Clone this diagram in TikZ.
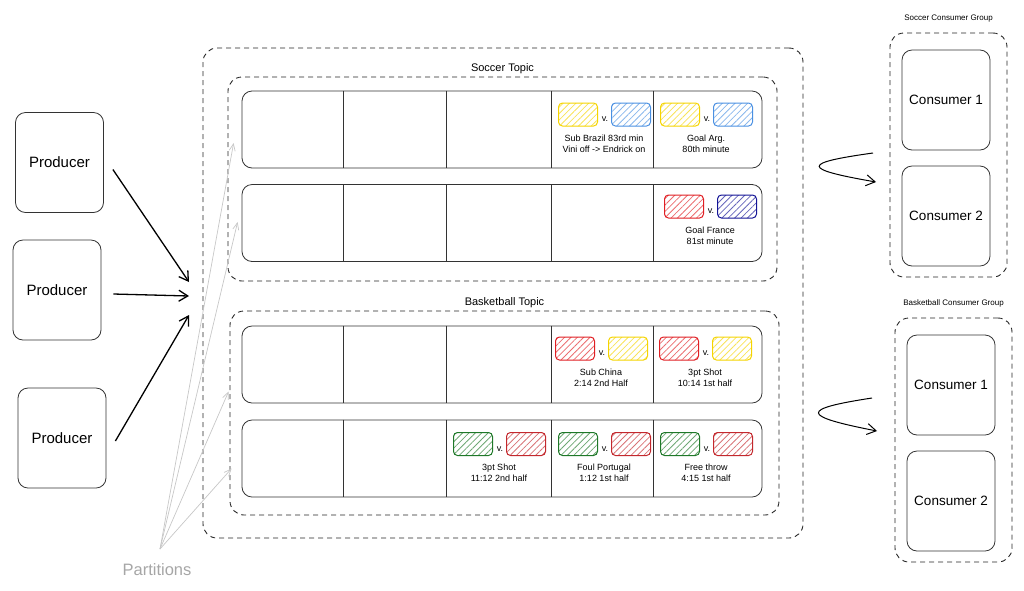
\documentclass[tikz,border=0pt]{standalone}
\usepackage{fontspec}
\setmainfont{Liberation Sans}
\usetikzlibrary{arrows.meta, positioning, patterns.meta}

\definecolor{kityellow}{RGB}{245,212,0}
\definecolor{kitsky}{RGB}{74,144,226}
\definecolor{kitred}{RGB}{224,30,35}
\definecolor{kitnavy}{RGB}{20,20,150}
\definecolor{kitgreen}{RGB}{30,120,40}
\definecolor{kitwine}{RGB}{195,40,45}

\begin{document}
\begin{tikzpicture}[
    x=1pt, y=-1pt,
    every node/.style = {inner sep=0pt},
    roundbox/.style = {draw=black!80, line width=0.8pt, rounded corners=10pt},
    prodbox/.style = {roundbox, minimum width=88pt, minimum height=100pt, font=\fontsize{15}{18}\selectfont},
    consbox/.style = {roundbox, minimum width=88pt, minimum height=100pt, font=\fontsize{13.5}{16}\selectfont},
    partbox/.style = {roundbox, minimum width=520pt, minimum height=77pt},
    dashbox/.style = {draw=black!85, line width=0.9pt, dash pattern=on 5pt off 4pt, rounded corners=14pt},
    caption/.style = {font=\fontsize{9}{11}\selectfont, align=center},
    grouplbl/.style = {font=\fontsize{8}{10}\selectfont},
    heading/.style = {font=\fontsize{11}{13}\selectfont},
    team/.style = {draw=#1, line width=1pt, rounded corners=4pt, minimum width=39pt, minimum height=23pt,
                   pattern={Lines[angle=45,distance=4.5pt,line width=0.8pt]}, pattern color=#1!65},
    flow/.style = {line width=1.3pt, -{Straight Barb[length=9pt,width=11pt]}},
    pale/.style = {black!22, line width=0.7pt, -{Straight Barb[length=7pt,width=6pt]}}
  ]
  \useasboundingbox (0,0) rectangle (1024,590);

  % Producers
  \node[prodbox] (prodA) at (59.5,162.5) {Producer};
  \node[prodbox] (prodB) at (57,290) {Producer};
  \node[prodbox] (prodC) at (62,438) {Producer};

  \coordinate (hubA) at (189,282);
  \coordinate (hubB) at (189,296);
  \coordinate (hubC) at (189,315);
  \draw[flow] ([xshift=9pt,yshift=-7pt]prodA.east) -- (hubA);
  \draw[flow] ([xshift=12pt,yshift=-4pt]prodB.east) -- (hubB);
  \draw[flow] ([xshift=9pt,yshift=-3pt]prodC.east) -- (hubC);

  % Cluster and topics
  \node[dashbox, minimum width=600pt, minimum height=490pt] (cluster) at (503,293) {};
  \node[dashbox, minimum width=549pt, minimum height=204pt] (soccerTopic) at (502.5,179) {};
  \node[dashbox, minimum width=549pt, minimum height=204pt] (basketTopic) at (504.5,413) {};
  \node[heading, above=3pt of soccerTopic] (soccerLbl) {Soccer Topic};
  \node[heading, above=3pt of basketTopic] (basketLbl) {Basketball Topic};

  % Partitions
  \node[partbox] (sp1) at (502,129.5) {};
  \node[partbox] (sp2) at (502,223) {};
  \node[partbox] (bp1) at (502,364.5) {};
  \node[partbox] (bp2) at (502,458.5) {};
  \foreach \p in {sp1,sp2,bp1,bp2}
    \foreach \dx in {102,205,310,412}
      \draw[black!80, line width=0.8pt] ([xshift=\dx pt]\p.north west) -- ([xshift=\dx pt]\p.south west);

  % Events
  \foreach \n/\x/\y/\ca/\cb/\txt in {
      evA/604/114.5/kityellow/kitsky/{Sub Brazil 83rd min\\Vini off -> Endrick on},
      evB/706/114.5/kityellow/kitsky/{Goal Arg.\\80th minute},
      evC/710/206.5/kitred/kitnavy/{Goal France\\81st minute},
      evD/601/348.5/kitred/kityellow/{Sub China\\2:14 2nd Half},
      evE/705/348.5/kitred/kityellow/{3pt Shot\\10:14 1st half},
      evF/499/444/kitgreen/kitwine/{3pt Shot\\11:12 2nd half},
      evG/604/444/kitgreen/kitwine/{Foul Portugal\\1:12 1st half},
      evH/706/444/kitgreen/kitwine/{Free throw\\4:15 1st half}} {
    \node[team=\ca] (\n-home) at (\x-26,\y) {};
    \node[team=\cb] (\n-away) at (\x+27,\y) {};
    \node[caption] (\n-vs) at (\x+1,\y+5) {v.};
    \node[caption] (\n-txt) at (\x,\y+29) {\txt};
  }

  % Partitions hint
  \node[black!35, font=\fontsize{16.5}{19}\selectfont] (partLbl) at (157,570) {Partitions};
  \coordinate (fan) at (160,549);
  \draw[pale] (fan) -- ([xshift=-8pt,yshift=-13.5pt]sp1.west);
  \draw[pale] (fan) -- ([xshift=-4pt,yshift=1pt]sp2.west);
  \draw[pale] (fan) -- ([xshift=-13pt,yshift=-27pt]bp1.west);
  \draw[pale] (fan) -- ([xshift=-10pt,yshift=-10pt]bp2.west);

  % Consumer groups
  \node[dashbox, minimum width=117pt, minimum height=244pt] (soccerGrp) at (948.5,155) {};
  \node[dashbox, minimum width=117pt, minimum height=244pt] (basketGrp) at (953.5,440) {};
  \node[grouplbl, above=10pt of soccerGrp] (soccerGrpLbl) {Soccer Consumer Group};
  \node[grouplbl, above=10pt of basketGrp] (basketGrpLbl) {Basketball Consumer Group};
  \node[consbox] (sc1) at (946,100) {Consumer 1};
  \node[consbox] (sc2) at (946,216) {Consumer 2};
  \node[consbox] (bc1) at (951,385) {Consumer 1};
  \node[consbox] (bc2) at (951,501) {Consumer 2};

  \coordinate (soccerFrom) at (873,153);
  \coordinate (soccerTo) at (876,182);
  \coordinate (basketFrom) at (872,398);
  \coordinate (basketTo) at (877,431);
  \draw[flow, line width=1pt] (soccerFrom) .. controls (801,163) and (801,169) .. (soccerTo);
  \draw[flow, line width=1pt] (basketFrom) .. controls (800,409) and (800,416) .. (basketTo);

\end{tikzpicture}
\end{document}
